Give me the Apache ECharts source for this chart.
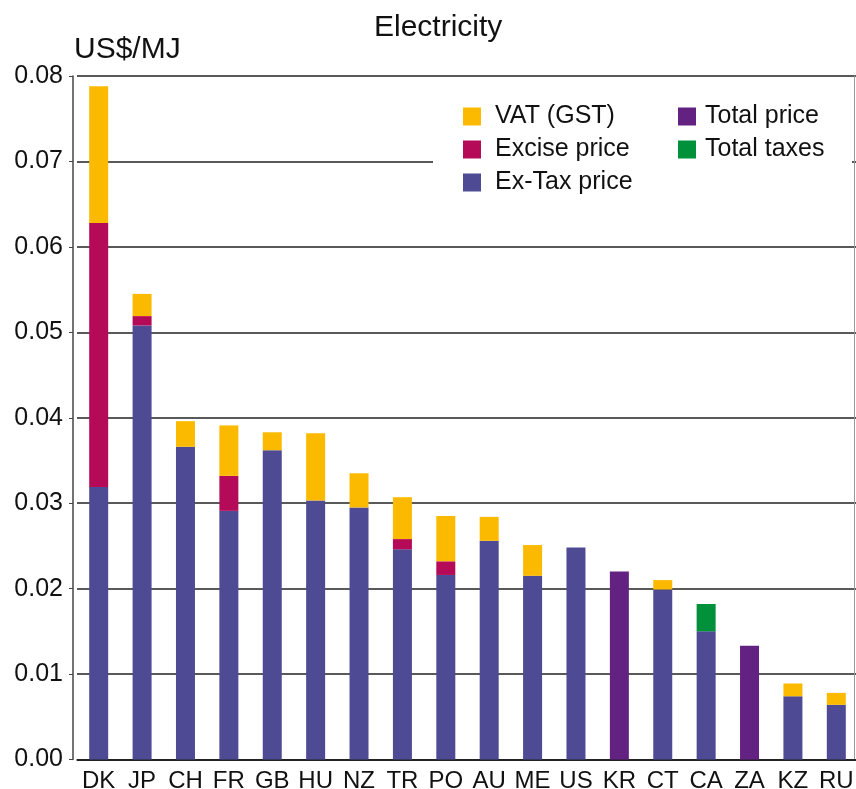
<!DOCTYPE html>
<html>
<head>
<meta charset="utf-8">
<script src="https://cdn.jsdelivr.net/npm/echarts@6/dist/echarts.min.js"></script>
<style>
  html, body { margin: 0; padding: 0; background: #fff; }
  #chart { width: 856px; height: 789px; }
</style>
</head>
<body>
<div id="chart"></div>
<script>
// values, US$/MJ
const categories = ["DK", "JP", "CH", "FR", "GB", "HU", "NZ", "TR", "PO", "AU", "ME", "US", "KR", "CT", "CA", "ZA", "KZ", "RU"];
const exTax = [0.0319, 0.0508, 0.0366, 0.0291, 0.0362, 0.0303, 0.0295, 0.0246, 0.0216, 0.0256, 0.0215, 0.0248, "-", 0.0199, 0.0150, "-", 0.0074, 0.0064];
const excise = [0.0309, 0.0011, "-", 0.0041, "-", "-", "-", 0.0012, 0.0016, "-", "-", "-", "-", "-", "-", "-", "-", "-"];
const vat = [0.0160, 0.0026, 0.0030, 0.0059, 0.0021, 0.0079, 0.0040, 0.0049, 0.0053, 0.0028, 0.0036, "-", "-", 0.0011, "-", "-", 0.0015, 0.0014];
const totalPrice = ["-", "-", "-", "-", "-", "-", "-", "-", "-", "-", "-", "-", 0.0220, "-", "-", 0.0133, "-", "-"];
const totalTaxes = ["-", "-", "-", "-", "-", "-", "-", "-", "-", "-", "-", "-", "-", "-", 0.0032, "-", "-", "-"];
const yTicks = { min: 0, max: 0.08, interval: 0.01 };

const font = "'Liberation Sans', Arial, sans-serif";
const colors = {
  vat: "#FBBA00",
  excise: "#B50A58",
  exTax: "#4F4A94",
  total: "#632282",
  taxes: "#00913A",
};

const chart = echarts.init(document.getElementById("chart"));

const bar = (name, data, color) => ({
  name,
  type: "bar",
  stack: "price",
  data,
  barWidth: 19,
  itemStyle: { color },
  emphasis: { disabled: true },
});

const legendBase = {
  orient: "vertical",
  itemWidth: 18,
  itemHeight: 18,
  itemGap: 8,
  padding: 0,
  icon: "rect",
  selectedMode: false,
  z: 10,
  textStyle: { fontFamily: font, fontSize: 25, color: "#111" },
};

chart.setOption({
  animation: false,
  backgroundColor: "#fff",
  title: [
    {
      text: "Electricity",
      left: 369,
      top: 8,
      textStyle: { fontFamily: font, fontSize: 30, fontWeight: "normal", color: "#111" },
    },
    {
      text: "US$/MJ",
      left: 69,
      top: 30,
      textStyle: { fontFamily: font, fontSize: 30, fontWeight: "normal", color: "#111" },
    },
  ],
  graphic: [
    {
      type: "rect",
      z: 5,
      shape: { x: 433, y: 80, width: 419, height: 140 },
      style: { fill: "#fff" },
    },
  ],
  legend: [
    {
      ...legendBase,
      left: 463,
      top: 104,
      data: ["VAT (GST)", "Excise price", "Ex-Tax price"],
      textStyle: { ...legendBase.textStyle, padding: [0, 0, 0, 9] },
    },
    {
      ...legendBase,
      left: 678,
      top: 104,
      data: ["Total price", "Total taxes"],
      textStyle: { ...legendBase.textStyle, padding: [0, 0, 0, 4] },
    },
  ],
  grid: { left: 77, right: -2, top: 76, bottom: 29.5, containLabel: false, outerBoundsMode: "none" },
  xAxis: {
    type: "category",
    data: categories,
    axisLine: { lineStyle: { color: "#111", width: 1.5 } },
    axisTick: { show: false },
    axisLabel: { fontFamily: font, fontSize: 24, color: "#111", margin: 10, interval: 0 },
  },
  yAxis: [
    {
      type: "value",
      ...yTicks,
      offset: 4,
      axisLine: { show: true, lineStyle: { color: "#444", width: 1.5 } },
      axisTick: { show: true, length: 4, lineStyle: { color: "#444" } },
      axisLabel: {
        fontFamily: font,
        fontSize: 25,
        color: "#111",
        margin: 10,
        formatter: (v) => v.toFixed(2),
      },
      splitLine: { lineStyle: { color: "#222", width: 1.5 } },
    },
    {
      type: "value",
      ...yTicks,
      position: "right",
      offset: -4,
      axisLine: { show: true, lineStyle: { color: "#999", width: 1 } },
      axisTick: { show: false },
      axisLabel: { show: false },
      splitLine: { show: false },
    },
  ],
  series: [
    bar("Ex-Tax price", exTax, colors.exTax),
    bar("Excise price", excise, colors.excise),
    bar("VAT (GST)", vat, colors.vat),
    bar("Total price", totalPrice, colors.total),
    bar("Total taxes", totalTaxes, colors.taxes),
  ],
});
</script>
</body>
</html>
